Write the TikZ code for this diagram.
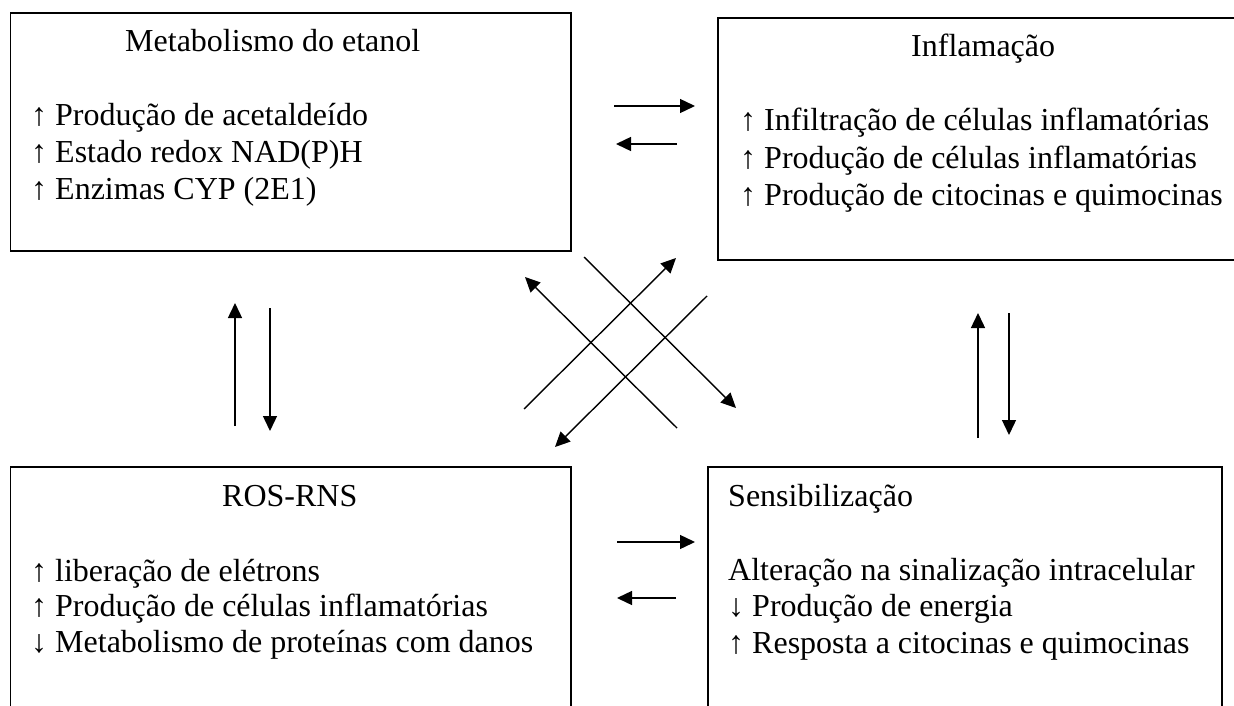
\documentclass[tikz,border=0pt]{standalone}
\usepackage{fontspec}
\setmainfont{Liberation Serif}
\usetikzlibrary{arrows.meta}

\tikzset{
  caixa/.style={draw, line width=1.8pt, inner sep=0pt, anchor=north west},
  seta/.style={-{Triangle[length=15pt,width=14pt]}, line width=1.4pt},
  txt/.style={anchor=base west, inner sep=0pt, font=\fontsize{32}{37}\selectfont},
}

\begin{document}
\begin{tikzpicture}[x=1pt,y=-1pt]
		\useasboundingbox (0,0) rectangle (1234,706);
		\clip (0,0) rectangle (1234,706);
		% caixas
		\node[caixa, minimum width=560.5pt, minimum height=238pt] (met) at (9.5,12) {};
		\node[caixa, minimum width=540pt, minimum height=242pt] (infl) at (717,17) {};
		\node[caixa, minimum width=560.5pt, minimum height=260pt] (ros) at (9.5,466) {};
		\node[caixa, minimum width=514pt, minimum height=260pt] (sens) at (707,466) {};
		% textos
		\node[txt] (met-t) at (125,52) {Metabolismo do etanol};
		\node[txt] (met-1) at (31,126) {↑ Produção de acetaldeído};
		\node[txt] (met-2) at (31,163) {↑ Estado redox NAD(P)H};
		\node[txt] (met-3) at (31,199) {↑ Enzimas CYP (2E1)};
		\node[txt] (infl-t) at (911,57) {Inflamação};
		\node[txt] (infl-1) at (740,131) {↑ Infiltração de células inflamatórias};
		\node[txt] (infl-2) at (740,168) {↑ Produção de células inflamatórias};
		\node[txt] (infl-3) at (740,205) {↑ Produção de citocinas e quimocinas};
		\node[txt] (ros-t) at (222,506) {ROS-RNS};
		\node[txt] (ros-1) at (31,581) {↑ liberação de elétrons};
		\node[txt] (ros-2) at (31,616) {↑ Produção de células inflamatórias};
		\node[txt] (ros-3) at (31,652) {↓ Metabolismo de proteínas com danos};
		\node[txt] (sens-t) at (728,506) {Sensibilização};
		\node[txt] (sens-1) at (728,580) {Alteração na sinalização intracelular};
		\node[txt] (sens-2) at (728,616) {↓ Produção de energia};
		\node[txt] (sens-3) at (728,653) {↑ Resposta a citocinas e quimocinas};
		% pontas das setas
		\coordinate (h1a) at (614,106);  \coordinate (h1b) at (695,106);
		\coordinate (h2a) at (677,144);  \coordinate (h2b) at (616,144);
		\coordinate (h3a) at (617,542);  \coordinate (h3b) at (695,542);
		\coordinate (h4a) at (676,598);  \coordinate (h4b) at (617,598);
		\coordinate (v1a) at (235,426);  \coordinate (v1b) at (235,303);
		\coordinate (v2a) at (270,308);  \coordinate (v2b) at (270,431);
		\coordinate (v3a) at (978,438);  \coordinate (v3b) at (978,313);
		\coordinate (v4a) at (1009,313); \coordinate (v4b) at (1009,435);
		\coordinate (d1a) at (677,428);  \coordinate (d1b) at (525,277);
		\coordinate (d2a) at (524,409);  \coordinate (d2b) at (676,258);
		\coordinate (d3a) at (584,257);  \coordinate (d3b) at (736,408);
		\coordinate (d4a) at (707,296);  \coordinate (d4b) at (555,447);
		% setas
		\draw[seta] (h1a) -- (h1b);
		\draw[seta] (h2a) -- (h2b);
		\draw[seta] (h3a) -- (h3b);
		\draw[seta] (h4a) -- (h4b);
		\draw[seta] (v1a) -- (v1b);
		\draw[seta] (v2a) -- (v2b);
		\draw[seta] (v3a) -- (v3b);
		\draw[seta] (v4a) -- (v4b);
		\draw[seta] (d1a) -- (d1b);
		\draw[seta] (d2a) -- (d2b);
		\draw[seta] (d3a) -- (d3b);
		\draw[seta] (d4a) -- (d4b);
\end{tikzpicture}
\end{document}
